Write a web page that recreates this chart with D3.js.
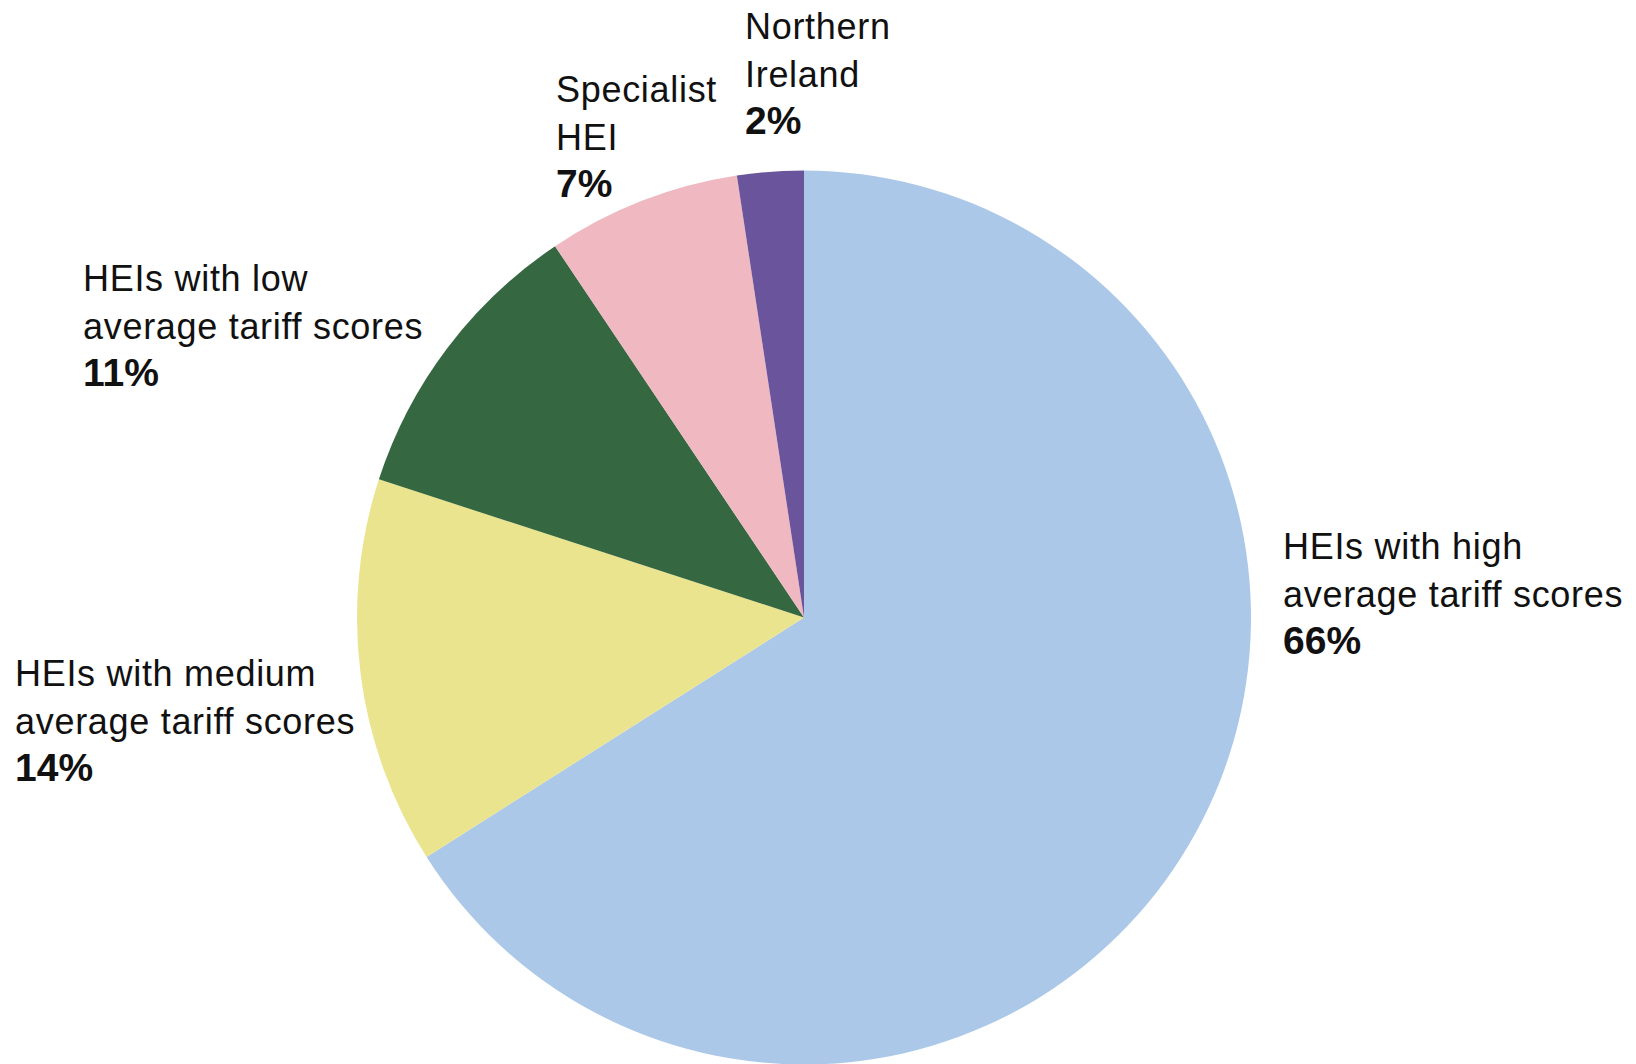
<!DOCTYPE html>
<html>
<head>
<meta charset="utf-8">
<script src="https://cdn.jsdelivr.net/npm/d3@7"></script>
<style>
  html, body { margin: 0; padding: 0; background: #ffffff; }
  svg { display: block; }
  text { font-family: "Liberation Sans", Arial, Helvetica, sans-serif; fill: #111; }
</style>
</head>
<body>
<svg id="chart" width="1636" height="1064"></svg>
<script>
// ---- data ----
const categories = [
  "HEIs with high average tariff scores",
  "HEIs with medium average tariff scores",
  "HEIs with low average tariff scores",
  "Specialist HEI",
  "Northern Ireland"
];
const labelLines = [
  ["HEIs with high", "average tariff scores"],
  ["HEIs with medium", "average tariff scores"],
  ["HEIs with low", "average tariff scores"],
  ["Specialist", "HEI"],
  ["Northern", "Ireland"]
];
const shares = [66, 14, 10.6, 7, 2.4];
const percentLabels = ["66%", "14%", "11%", "7%", "2%"];
const colors = ["#abc8e8", "#ebe48f", "#356841", "#f0b8c0", "#6a549c"];

// ---- layout (positions, not data) ----
const cx = 804, cy = 617.5, radius = 447;
const labelPos = [
  {x: 1283, y: 559},
  {x: 15, y: 686},
  {x: 83, y: 291},
  {x: 556, y: 102},
  {x: 745, y: 39}
];
const lineH = 47.5;
const fontSize = 36;
const boldSize = 39;

const svg = d3.select("#chart");
const g = svg.append("g").attr("transform", `translate(${cx},${cy})`);

const pie = d3.pie().sort(null).value(d => d.value).startAngle(0).endAngle(2 * Math.PI);
const arc = d3.arc().innerRadius(0).outerRadius(radius);
const color = d3.scaleOrdinal().domain(categories).range(colors);

const data = categories.map((c, i) => ({name: c, value: shares[i]}));

g.selectAll("path.slice")
  .data(pie(data))
  .join("path")
  .attr("class", "slice")
  .attr("d", arc)
  .attr("fill", d => color(d.data.name));

const labels = svg.selectAll("g.label")
  .data(categories)
  .join("g")
  .attr("class", "label")
  .attr("transform", (d, i) => `translate(${labelPos[i].x},${labelPos[i].y})`);

labels.each(function(d, i) {
  const t = d3.select(this);
  labelLines[i].forEach((line, j) => {
    t.append("text")
      .attr("x", 0).attr("y", j * lineH)
      .attr("font-size", fontSize)
      .attr("letter-spacing", 0.7)
      .text(line);
  });
  t.append("text")
    .attr("x", 0).attr("y", labelLines[i].length * lineH)
    .attr("font-size", boldSize)
    .attr("font-weight", "bold")
    .text(percentLabels[i]);
});
</script>
</body>
</html>
